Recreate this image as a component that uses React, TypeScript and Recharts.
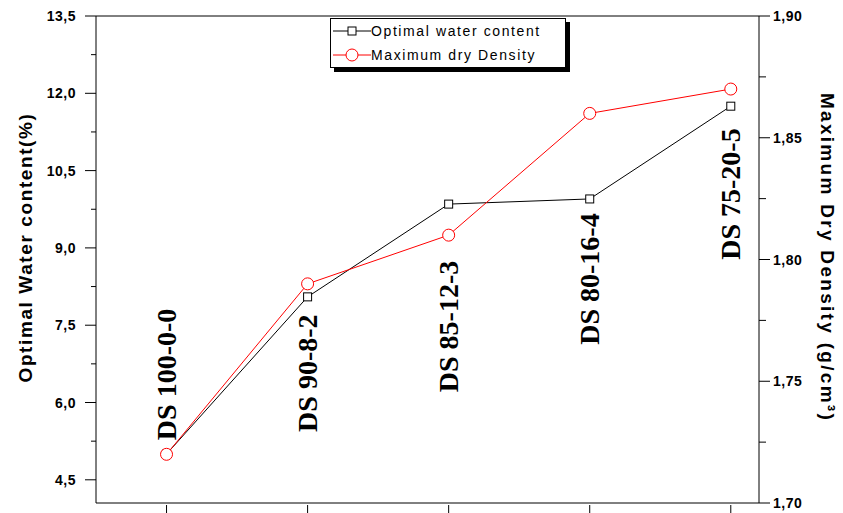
import { LineChart, Line, XAxis, YAxis, Legend, ReferenceLine, ReferenceDot } from 'recharts'

const mixes = ['DS 100-0-0', 'DS 90-8-2', 'DS 85-12-3', 'DS 80-16-4', 'DS 75-20-5']
const waterContent = [5.0, 8.05, 9.85, 9.95, 11.75]
const dryDensity = [1.72, 1.79, 1.81, 1.86, 1.87]
// where the rotated mix names start, read on the left axis
const labelBase = [5.27, 5.43, 6.2, 7.12, 8.77]

const leftTicks = [4.5, 5.25, 6.0, 6.75, 7.5, 8.25, 9.0, 9.75, 10.5, 11.25, 12.0, 12.75, 13.5]
const rightTicks = [1.7, 1.725, 1.75, 1.775, 1.8, 1.825, 1.85, 1.875, 1.9]

const data = mixes.map((name, i) => ({
  idx: i + 1,
  name,
  water: waterContent[i],
  density: dryDensity[i],
}))

const tickFont = { fontFamily: 'Liberation Sans, Arial, sans-serif', fontWeight: 700, fontSize: 14, letterSpacing: 0.5 }

function LeftTick({ x, y, index }: any) {
  const major = index % 2 === 0
  return (
    <g>
      <line x1={x} x2={x - (major ? 11 : 5)} y1={y} y2={y} stroke="#000" strokeWidth={1} />
      {major && (
        <text x={x - 20} y={y + 5} textAnchor="end" style={tickFont} fill="#000">
          {leftTicks[index].toFixed(1).replace('.', ',')}
        </text>
      )}
    </g>
  )
}

function RightTick({ x, y, index }: any) {
  const major = index % 2 === 0
  return (
    <g>
      <line x1={x} x2={x + (major ? 11 : 7)} y1={y} y2={y} stroke="#000" strokeWidth={1} />
      {major && (
        <text x={x + 14} y={y + 5} textAnchor="start" style={tickFont} fill="#000">
          {rightTicks[index].toFixed(2).replace('.', ',')}
        </text>
      )}
    </g>
  )
}

function BottomTick({ x, y }: any) {
  return <line x1={x} x2={x} y1={y} y2={y + 9} stroke="#000" strokeWidth={1} />
}

function SquareDot({ cx, cy, index }: any) {
  return <rect key={index} x={cx - 4} y={cy - 4} width={8} height={8} fill="#fff" stroke="#000" strokeWidth={1} />
}

function MixName(text: string) {
  return ({ cx, cy }: any) => (
    <text
      transform={`translate(${cx + 9},${cy}) rotate(-90)`}
      fontFamily="Liberation Serif, Times New Roman, serif"
      fontWeight={700}
      fontSize={28}
      fill="#000"
    >
      {text}
    </text>
  )
}

function LegendBox() {
  const row = { display: 'flex', alignItems: 'center', height: 24 }
  const txt = { fontFamily: 'Liberation Sans, Arial, sans-serif', fontSize: 14, letterSpacing: 1.6, color: '#000' }
  return (
    <div
      style={{
        border: '1px solid #000',
        background: '#fff',
        boxShadow: '4px 4px 0 #000',
        padding: '0 4px 0 2px',
        width: 228,
      }}
    >
      <div style={row}>
        <svg width={38} height={12}>
          <line x1={0} x2={38} y1={6} y2={6} stroke="#000" />
          <rect x={15} y={2} width={8} height={8} fill="#fff" stroke="#000" />
        </svg>
        <span style={txt}>Optimal water content</span>
      </div>
      <div style={row}>
        <svg width={38} height={14}>
          <line x1={0} x2={38} y1={7} y2={7} stroke="red" />
          <circle cx={19} cy={7} r={6} fill="#fff" stroke="red" />
        </svg>
        <span style={txt}>Maximum dry Density</span>
      </div>
    </div>
  )
}

const titleFont = { fontFamily: 'Liberation Sans, Arial, sans-serif', fontWeight: 700, fontSize: 19 }

export default function App() {
  return (
    <div style={{ position: 'absolute', left: 0, top: 0, background: '#fff' }}>
      <LineChart width={843} height={513} data={data} margin={{ top: 16, right: 0, bottom: 0, left: 0 }}>
        <XAxis
          xAxisId="x"
          dataKey="idx"
          type="number"
          domain={[0.5, 5.2]}
          ticks={[1, 2, 3, 4, 5]}
          height={10}
          tickLine={false}
          tickSize={0}
          tick={<BottomTick />}
          axisLine={{ stroke: '#000' }}
        />
        <YAxis
          yAxisId="left"
          orientation="left"
          width={96}
          domain={[4.05, 13.5]}
          ticks={leftTicks}
          interval={0}
          tickLine={false}
          tickSize={0}
          tickMargin={0}
          tick={<LeftTick />}
          axisLine={{ stroke: '#000' }}
          label={{
            content: ({ viewBox }: any) => (
              <text
                transform={`translate(${viewBox.x + 32},${viewBox.y + viewBox.height / 2 - 12}) rotate(-90)`}
                textAnchor="middle"
                style={{ ...titleFont, letterSpacing: 1.6 }}
                fill="#000"
              >
                Optimal Water content(%)
              </text>
            ),
          }}
        />
        <YAxis
          yAxisId="right"
          orientation="right"
          width={84}
          domain={[1.7, 1.9]}
          ticks={rightTicks}
          interval={0}
          tickLine={false}
          tickSize={0}
          tickMargin={0}
          tick={<RightTick />}
          axisLine={{ stroke: '#000' }}
          label={{
            content: ({ viewBox }: any) => (
              <text
                transform={`translate(${viewBox.x + 62},${viewBox.y + viewBox.height / 2 - 2}) rotate(90)`}
                textAnchor="middle"
                style={{ ...titleFont, letterSpacing: 2.3 }}
                fill="#000"
              >
                Maximum Dry Density (g/cm³)
              </text>
            ),
          }}
        />
        <ReferenceLine xAxisId="x" yAxisId="left" y={13.5} stroke="#000" />
        {mixes.map((m, i) => (
          <ReferenceDot
            key={m}
            xAxisId="x"
            yAxisId="left"
            x={i + 1}
            y={labelBase[i]}
            r={0}
            shape={MixName(m)}
          />
        ))}
        <Legend
          verticalAlign="middle"
          align="center"
          layout="horizontal"
          wrapperStyle={{ left: 330, top: 18, width: 'auto' }}
          content={<LegendBox />}
        />
        <Line
          xAxisId="x"
          yAxisId="left"
          dataKey="water"
          name="Optimal water content"
          stroke="#000"
          strokeWidth={1}
          dot={<SquareDot />}
          isAnimationActive={false}
        />
        <Line
          xAxisId="x"
          yAxisId="right"
          dataKey="density"
          name="Maximum dry Density"
          stroke="red"
          strokeWidth={1}
          dot={{ r: 6, fill: '#fff', stroke: 'red', strokeWidth: 1 }}
          isAnimationActive={false}
        />
      </LineChart>
    </div>
  )
}
